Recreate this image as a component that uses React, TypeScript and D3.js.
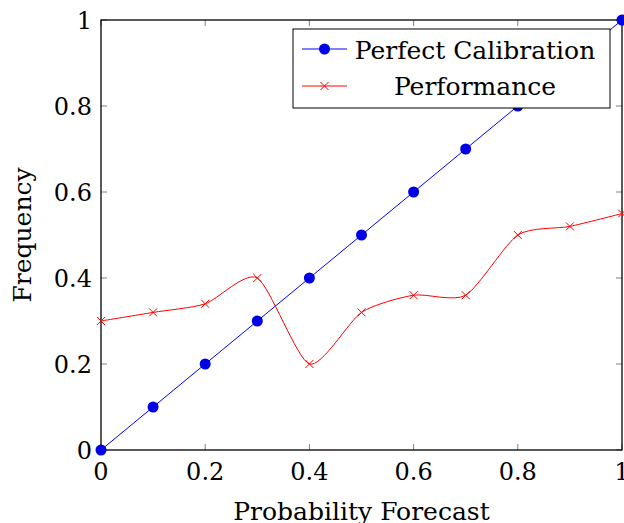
import React from "react";
import * as d3 from "d3";

const forecast = [0, 0.1, 0.2, 0.3, 0.4, 0.5, 0.6, 0.7, 0.8, 0.9, 1];
const perfect = [0, 0.1, 0.2, 0.3, 0.4, 0.5, 0.6, 0.7, 0.8, 0.9, 1];
const performance = [0.3, 0.32, 0.34, 0.4, 0.2, 0.32, 0.36, 0.36, 0.5, 0.52, 0.55];
const ticks = [0, 0.2, 0.4, 0.6, 0.8, 1];
const tickLabels = ["0", "0.2", "0.4", "0.6", "0.8", "1"];

const W = 624;
const H = 523;
const m = { left: 101, right: 2, top: 20, bottom: 73 };
const font = "DejaVu Serif";

export default function App() {
  const x = d3.scaleLinear().domain([0, 1]).range([m.left, W - m.right]);
  const y = d3.scaleLinear().domain([0, 1]).range([H - m.bottom, m.top]);

  const perfLine = d3
    .line<number>()
    .x((d, i) => x(forecast[i]))
    .y((d) => y(d));
  const smooth = d3
    .line<number>()
    .x((d, i) => x(forecast[i]))
    .y((d) => y(d))
    .curve(d3.curveCardinal.tension(0.3));

  const [x0, x1] = x.range();
  const [y0, y1] = y.range();
  const tl = 6;

  const legX = 293;
  const legY = 29;

  return (
    <svg width={W} height={H} style={{ position: "absolute", left: 0, top: 0 }}>
      <rect width={W} height={H} fill="white" />
      {/* ticks */}
      <g stroke="#808080" strokeWidth={1}>
        {ticks.map((t) => (
          <g key={"t" + t}>
            <line x1={x(t)} x2={x(t)} y1={y0} y2={y0 - tl} />
            <line x1={x(t)} x2={x(t)} y1={y1} y2={y1 + tl} />
            <line x1={x0} x2={x0 + tl} y1={y(t)} y2={y(t)} />
            <line x1={x1} x2={x1 - tl} y1={y(t)} y2={y(t)} />
          </g>
        ))}
      </g>
      <rect
        x={x0}
        y={y1}
        width={x1 - x0}
        height={y0 - y1}
        fill="none"
        stroke="black"
        strokeWidth={1.3}
      />
      {/* series */}
      <path d={perfLine(perfect) ?? ""} fill="none" stroke="blue" strokeWidth={1} />
      {perfect.map((d, i) => (
        <circle key={"p" + i} cx={x(forecast[i])} cy={y(d)} r={5.5} fill="#0000e6" />
      ))}
      <path d={smooth(performance) ?? ""} fill="none" stroke="red" strokeWidth={1} />
      {performance.map((d, i) => {
        const cx = x(forecast[i]);
        const cy = y(d);
        const s = 4;
        return (
          <g key={"r" + i} stroke="red" strokeWidth={1}>
            <line x1={cx - s} x2={cx + s} y1={cy - s} y2={cy + s} />
            <line x1={cx - s} x2={cx + s} y1={cy + s} y2={cy - s} />
          </g>
        );
      })}
      {/* tick labels */}
      <g style={{ fontFamily: font }} fontSize={24} fill="black">
        {ticks.map((t, i) => (
          <text key={"xl" + t} x={x(t)} y={y0 + 30} textAnchor="middle">
            {tickLabels[i]}
          </text>
        ))}
        {ticks.map((t, i) => (
          <text key={"yl" + t} x={x0 - 9} y={y(t) + 9} textAnchor="end">
            {tickLabels[i]}
          </text>
        ))}
      </g>
      <g style={{ fontFamily: font }} fontSize={25} fill="black">
        <text x={(x0 + x1) / 2} y={y0 + 70} textAnchor="middle">
          Probability Forecast
        </text>
        <text
          transform={`translate(${31},${(y0 + y1) / 2}) rotate(-90)`}
          textAnchor="middle"
        >
          Frequency
        </text>
      </g>
      {/* legend */}
      <g>
        <rect x={legX} y={legY} width={317} height={79} fill="white" stroke="black" strokeWidth={1} />
        <line x1={legX + 9} x2={legX + 54} y1={legY + 20} y2={legY + 20} stroke="blue" />
        <circle cx={legX + 31.5} cy={legY + 20} r={5.5} fill="#0000e6" />
        <line x1={legX + 9} x2={legX + 54} y1={legY + 57} y2={legY + 57} stroke="red" />
        <g stroke="red">
          <line x1={legX + 27.5} x2={legX + 35.5} y1={legY + 53} y2={legY + 61} />
          <line x1={legX + 27.5} x2={legX + 35.5} y1={legY + 61} y2={legY + 53} />
        </g>
        <g style={{ fontFamily: font }} fontSize={25} fill="black" textAnchor="middle">
          <text x={475} y={legY + 30}>
            Perfect Calibration
          </text>
          <text x={475} y={legY + 66}>
            Performance
          </text>
        </g>
      </g>
    </svg>
  );
}
